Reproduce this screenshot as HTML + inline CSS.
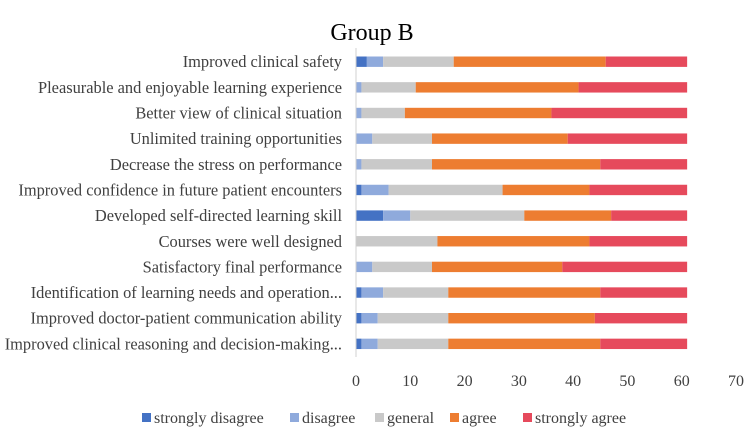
<!DOCTYPE html>
<html><head><meta charset="utf-8"><style>
body{margin:0;background:#fff;}
svg text{font-family:"Liberation Serif",serif;fill:#404040;}
</style></head><body>
<svg id="chart" width="744" height="428">
<text x="372" y="40" text-anchor="middle" font-size="24" style="fill:#000">Group B</text>
<g id="bars"></g><g id="labels"></g><g id="ticks"></g><g id="legend"></g>
</svg>
<script>
const categories=["Improved clinical safety","Pleasurable and enjoyable learning experience","Better view of clinical situation","Unlimited training opportunities","Decrease the stress on performance","Improved confidence in future patient encounters","Developed self-directed learning skill","Courses were well designed","Satisfactory final performance","Identification of learning needs and operation...","Improved doctor-patient communication ability","Improved clinical reasoning and decision-making..."];
const seriesNames=["strongly disagree","disagree","general","agree","strongly agree"];
const stronglyDisagree=[2,0,0,0,0,1,5,0,0,1,1,1];
const disagree=[3,1,1,3,1,5,5,0,3,4,3,3];
const general=[13,10,8,11,13,21,21,15,11,12,13,13];
const agree=[28,30,27,25,31,16,16,28,24,28,27,28];
const stronglyAgree=[15,20,25,22,16,18,14,18,23,16,17,16];
const tickLabels=[0,10,20,30,40,50,60,70];
const colors=["#4472C4","#8FAADC","#C9C9C9","#ED7D31","#E64A5C"];
const series=[stronglyDisagree,disagree,general,agree,stronglyAgree];
const NS="http://www.w3.org/2000/svg";
const x0=356,x70=736;
const xs=v=>x0+(x70-x0)*v/70;
const rowY=i=>61.7+i*25.65;
function mk(tag,attrs,parent){const e=document.createElementNS(NS,tag);for(const k in attrs)e.setAttribute(k,attrs[k]);parent.appendChild(e);return e;}
const gb=document.getElementById('bars'),gl=document.getElementById('labels'),gt=document.getElementById('ticks'),gg=document.getElementById('legend');
categories.forEach((c,i)=>{
 let acc=0;
 series.forEach((s,j)=>{
  const v=s[i];
  if(v>0){
   const r=mk('rect',{x:xs(acc),y:rowY(i)-5.2,width:xs(acc+v)-xs(acc),height:10.4,fill:colors[j]},gb);
   
   
  }
  acc+=v;
 });
 const t=mk('text',{x:342,y:rowY(i)+5.5,'text-anchor':'end','font-size':'16.4'},gl);
 t.textContent=c;
 
 
});
const ax=mk('line',{x1:x0,x2:x0,y1:48,y2:357,stroke:'#d0d0d0','stroke-width':1},gt);


tickLabels.forEach(v=>{
 const t=mk('text',{x:xs(v),y:386,'text-anchor':'middle','font-size':'16'},gt);
 t.textContent=v;
 
 
});
const legX=[142,290,375,450,523];
seriesNames.forEach((n,j)=>{
 const g=mk('g',{},gg);
 
 
 mk('rect',{x:legX[j],y:413,width:9,height:9,fill:colors[j]},g);
 const t=mk('text',{x:legX[j]+12,y:423,'font-size':'16'},g);
 t.textContent=n;
});
</script>
</body></html>
